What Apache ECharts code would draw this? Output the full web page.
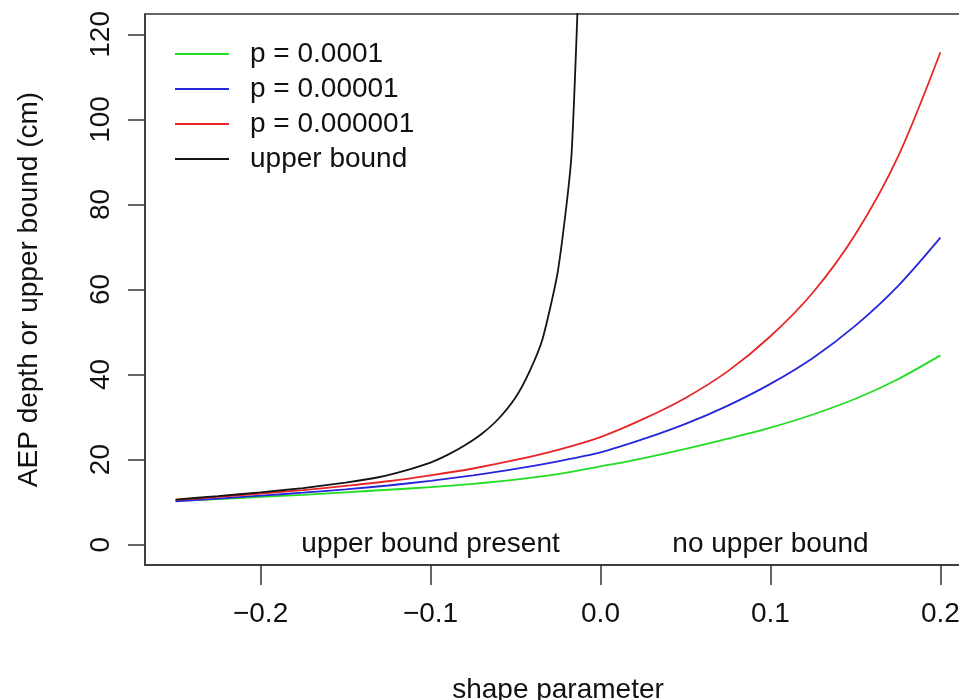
<!DOCTYPE html>
<html>
<head>
<meta charset="UTF-8">
<title>AEP depth vs shape parameter</title>
<script src="https://cdn.jsdelivr.net/npm/echarts@6/dist/echarts.min.js"></script>
<style>
  html, body { margin: 0; padding: 0; background: #fff; }
  #main { width: 959px; height: 700px; }
</style>
</head>
<body>
<div id="main"></div>
<script>
// shape parameter values for the three AEP curves
var shapeX = [-0.25, -0.225, -0.2, -0.175, -0.15, -0.125, -0.1, -0.075, -0.05, -0.025,
              0, 0.025, 0.05, 0.075, 0.1, 0.125, 0.15, 0.175, 0.2];
var p1e4 = [10.3, 10.7, 11.2, 11.7, 12.3, 12.9, 13.5, 14.3, 15.3, 16.6,
            18.4, 20.3, 22.5, 24.9, 27.5, 30.6, 34.3, 38.9, 44.5];
var p1e5 = [10.2, 10.8, 11.5, 12.2, 13.0, 13.9, 15.0, 16.3, 17.8, 19.6,
            21.7, 24.8, 28.4, 32.7, 37.8, 43.9, 51.5, 60.8, 72.2];
var p1e6 = [10.5, 11.2, 12.0, 12.8, 13.8, 14.9, 16.3, 17.9, 19.9, 22.3,
            25.3, 29.5, 34.5, 40.8, 49.0, 59.3, 73.0, 91.2, 115.8];
// upper bound (only for negative shape)
var boundX = [-0.25, -0.225, -0.2, -0.175, -0.15, -0.13, -0.115, -0.1, -0.09, -0.08,
              -0.07, -0.06, -0.05, -0.042, -0.034, -0.025, -0.017, -0.009];
var bound = [10.6, 11.4, 12.3, 13.3, 14.6, 15.9, 17.4, 19.3, 21.1, 23.3,
             26.0, 29.6, 34.6, 40.5, 48.5, 64.5, 92.0, 180.0];

var xTicks = [-0.2, -0.1, 0, 0.1, 0.2];
var yTicks = [0, 20, 40, 60, 80, 100, 120];
var names = ['p = 0.0001', 'p = 0.00001', 'p = 0.000001', 'upper bound'];
var colors = ['#22dd22', '#2626dc', '#e82626', '#141414'];
var notes = [[-0.1, 0, 'upper bound present'], [0.1, 0, 'no upper bound']];

function pairs(xs, ys) {
  var out = [];
  for (var i = 0; i < xs.length; i++) out.push([xs[i], ys[i]]);
  return out;
}

var chart = echarts.init(document.getElementById('main'));
var font = 'Liberation Sans, Arial, sans-serif';
var ink = '#111';
var fs = 28;

function curve(i, data, sm) {
  return {
    name: names[i],
    type: 'line',
    data: data,
    symbol: 'none',
    smooth: sm,
    clip: true,
    lineStyle: { color: colors[i], width: 1.8 },
    itemStyle: { color: colors[i] },
    z: 3
  };
}

chart.setOption({
  animation: false,
  textStyle: { fontFamily: font },
  grid: {
    left: 145, top: 14, width: 826, height: 551,
    outerBoundsMode: 'none',
    containLabel: false,
    show: true, borderColor: '#333', borderWidth: 1.5,
    backgroundColor: 'transparent'
  },
  legend: {
    data: names,
    orient: 'vertical',
    left: 170, top: 35,
    icon: 'rect',
    itemWidth: 54, itemHeight: 2, itemGap: 7,
    textStyle: { fontSize: fs, color: ink, fontFamily: font, padding: [0, 0, 0, 16], lineHeight: 28 }
  },
  xAxis: {
    type: 'value',
    min: -0.268, max: 0.218,
    name: 'shape parameter',
    nameLocation: 'middle',
    nameGap: 111,
    nameTextStyle: { fontSize: fs, color: ink },
    axisLine: { show: true, onZero: false, lineStyle: { color: '#333', width: 1.5 } },
    axisTick: { show: true, length: 20, customValues: xTicks, lineStyle: { color: '#333', width: 1.5 } },
    axisLabel: {
      customValues: xTicks, fontSize: fs, color: ink, margin: 35,
      formatter: function (v) { return (v < 0 ? '\u2212' : '') + Math.abs(v).toFixed(1); }
    },
    splitLine: { show: false }
  },
  yAxis: {
    type: 'value',
    min: -4.8, max: 124.8,
    name: 'AEP depth or upper bound (cm)',
    nameLocation: 'middle',
    nameGap: 102,
    nameRotate: 90,
    nameTextStyle: { fontSize: fs, color: ink },
    axisLine: { show: true, onZero: false, lineStyle: { color: '#333', width: 1.5 } },
    axisTick: { show: true, length: 17, customValues: yTicks, lineStyle: { color: '#333', width: 1.5 } },
    axisLabel: {
      customValues: yTicks, fontSize: fs, color: ink, margin: 30, rotate: 90,
      formatter: function (v) { return String(v); }
    },
    splitLine: { show: false }
  },
  series: [
    curve(0, pairs(shapeX, p1e4), 0.3),
    curve(1, pairs(shapeX, p1e5), 0.3),
    curve(2, pairs(shapeX, p1e6), 0.3),
    curve(3, pairs(boundX, bound), 0.2),
    {
      name: 'notes',
      type: 'scatter',
      data: notes,
      symbolSize: 0,
      silent: true,
      itemStyle: { opacity: 1 },
      label: {
        show: true, position: 'inside', fontSize: fs, color: ink, opacity: 1,
        formatter: function (p) { return p.value[2]; }
      }
    }
  ]
});
</script>
</body>
</html>
